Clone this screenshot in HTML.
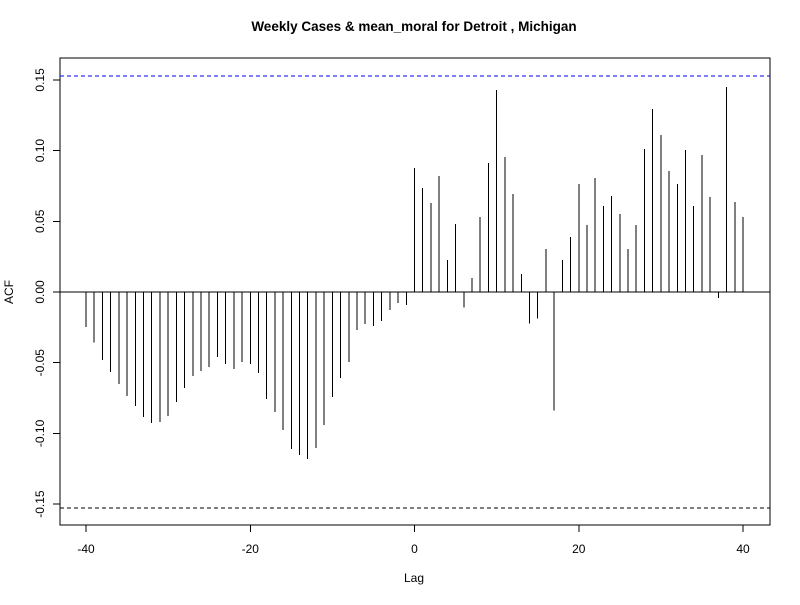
<!DOCTYPE html>
<html><head><meta charset="utf-8"><style>
body{margin:0;background:#fff}
text{font-family:"Liberation Sans",Arial,sans-serif;font-size:12px;fill:#000}
line,rect{shape-rendering:crispEdges}
</style></head><body>
<svg id="chart" width="800" height="600" xmlns="http://www.w3.org/2000/svg">
<rect width="800" height="600" fill="#fff"/>
<text x="414" y="31" text-anchor="middle" font-weight="bold" style="font-size:13.5px">Weekly Cases &amp; mean_moral for Detroit , Michigan</text>
<rect x="60" y="58" width="710" height="467" fill="none" stroke="#000"/>
<text x="414" y="582" text-anchor="middle">Lag</text>
<text transform="translate(13,292) rotate(-90)" text-anchor="middle">ACF</text>
<g id="marks"></g>
</svg>
<script>
const lags = [];
for (let l = -40; l <= 40; l++) lags.push(l);
const acfValues = [-0.0248,-0.0358,-0.0481,-0.0566,-0.065,-0.0735,-0.0806,-0.0884,-0.0926,-0.0919,
-0.0877,-0.0778,-0.0679,-0.0594,-0.0559,-0.053,-0.046,-0.0509,-0.0545,-0.0495,
-0.0509,-0.0573,-0.0757,-0.0849,-0.0976,-0.111,-0.1153,-0.118,-0.1103,-0.094,
-0.0742,-0.0608,-0.0495,-0.0269,-0.0226,-0.024,-0.0205,-0.0127,-0.0078,-0.0092,
0.0877,0.0736,0.0629,0.082,0.0226,0.0481,-0.0111,0.0099,0.053,0.0912,
0.1429,0.0955,0.0693,0.0127,-0.0224,-0.0189,0.0304,-0.0839,0.0226,0.0389,
0.0764,0.0474,0.0806,0.0608,0.0679,0.0552,0.0304,0.0474,0.1011,0.1294,
0.111,0.0856,0.0764,0.1004,0.0608,0.0969,0.0672,-0.0042,0.145,0.0636,0.053];
const ciBound = [0.1528];
const xTicks = [-40,-20,0,20,40];
const yTicks = [-0.15,-0.10,-0.05,0.00,0.05,0.10,0.15];
const yTickLabels = ["-0.15","-0.10","-0.05","0.00","0.05","0.10","0.15"];

const X = l => 414.5 + l * 8.2125;
const Y = v => 292 - v * 1414;
const NS = "http://www.w3.org/2000/svg";
const svg = document.getElementById('chart');
function mk(tag, attrs){const e=document.createElementNS(NS,tag);for(const k in attrs)e.setAttribute(k,attrs[k]);svg.appendChild(e);return e;}

xTicks.forEach(t=>{
  const ln=mk('line',{x1:X(t),x2:X(t),y1:525,y2:532,stroke:'#000'});
  
  
  const tx=mk('text',{x:X(t),y:553,'text-anchor':'middle'});tx.textContent=t;
  
  
});
yTicks.forEach((t,i)=>{
  const ln=mk('line',{x1:53,x2:60,y1:Y(t),y2:Y(t),stroke:'#000'});
  
  
  const tx=mk('text',{transform:`translate(44,${Y(t)}) rotate(-90)`,'text-anchor':'middle'});tx.textContent=yTickLabels[i];
  
  
});
const zl=mk('line',{x1:60,x2:770,y1:Y(0),y2:Y(0),stroke:'#000'});


const cu=mk('line',{x1:60,x2:770,y1:Y(ciBound[0]),y2:Y(ciBound[0]),stroke:'#0000ff','stroke-dasharray':'4,3'});


const cl=mk('line',{x1:60,x2:770,y1:Y(-ciBound[0]),y2:Y(-ciBound[0]),stroke:'#000','stroke-dasharray':'4,3'});


acfValues.forEach((v,i)=>{
  const b=mk('line',{x1:X(lags[i]),x2:X(lags[i]),y1:Y(0),y2:Y(v),stroke:'#000','stroke-width':1});
  
  
});
</script>
</body></html>
